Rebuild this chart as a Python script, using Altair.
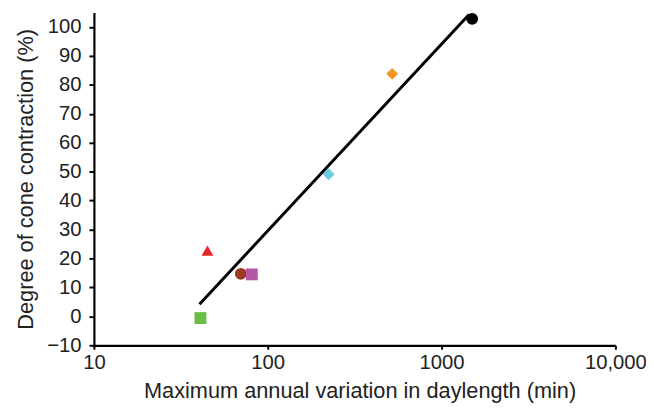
import altair as alt
import pandas as pd

# Point data
daylength = [41, 45, 70, 81, 224, 520, 1500]
contraction = [-0.6, 22.7, 14.7, 14.5, 49.1, 83.8, 102.8]
shapes = ["square", "triangle-up", "circle", "square", "diamond", "diamond", "circle"]
colors = ["#6ABD45", "#E8262A", "#9A3B22", "#B557A6", "#6DCDE0", "#F7941D", "#000000"]

# Fitted line end points
fit_x = [40.5, 1440]
fit_y = [4.2, 104.3]

x_ticks = [10, 100, 1000, 10000]
y_ticks = [-10, 0, 10, 20, 30, 40, 50, 60, 70, 80, 90, 100]

FONT = "Liberation Sans"

pts = pd.DataFrame({"x": daylength, "y": contraction, "shape": shapes, "color": colors})
fit = pd.DataFrame({"x": fit_x, "y": fit_y})

xscale = alt.Scale(type="log", domain=[10, 10000], nice=False)
yscale = alt.Scale(domain=[-10, 105], nice=False, zero=False)

xaxis = alt.Axis(
    values=x_ticks,
    labelExpr="datum.value >= 10000 ? format(datum.value, ',') : format(datum.value, 'd')",
    title="Maximum annual variation in daylength (min)",
    tickSize=4, labelPadding=3, labelFontSize=20.5, titleFontSize=22,
    titlePadding=8, labelFlush=False, labelOverlap=False,
    titleX=269, titleAlign="center",
)
yaxis = alt.Axis(
    values=y_ticks,
    title="Degree of cone contraction (%)",
    tickSize=5, labelPadding=8, labelFontSize=20.5, titleFontSize=22,
    titlePadding=9, labelOverlap=False,
)

points = alt.Chart(pts).mark_point(filled=True, opacity=1, size=144).encode(
    x=alt.X("x:Q", scale=xscale, axis=xaxis),
    y=alt.Y("y:Q", scale=yscale, axis=yaxis),
    shape=alt.Shape("shape:N", scale=None),
    color=alt.Color("color:N", scale=None),
)

line = alt.Chart(fit).mark_line(color="black", strokeWidth=3).encode(
    x=alt.X("x:Q", scale=xscale, axis=xaxis),
    y=alt.Y("y:Q", scale=yscale, axis=yaxis),
)

chart = alt.layer(points, line).properties(
    width=528, height=337,
    autosize=alt.AutoSizeParams(type="none"),
    padding={"left": 87, "top": 2, "right": 31, "bottom": 64},
).configure_view(stroke=None).configure_axis(
    grid=False, domainColor="black", domainWidth=2.2, tickColor="black", tickWidth=2,
    labelColor="#222", titleColor="#222", labelFont=FONT, titleFont=FONT,
    titleFontWeight="normal", labelOverlap=False, labelBound=False,
)

chart.save("out.html", embed_options={"renderer": "svg", "actions": False})
